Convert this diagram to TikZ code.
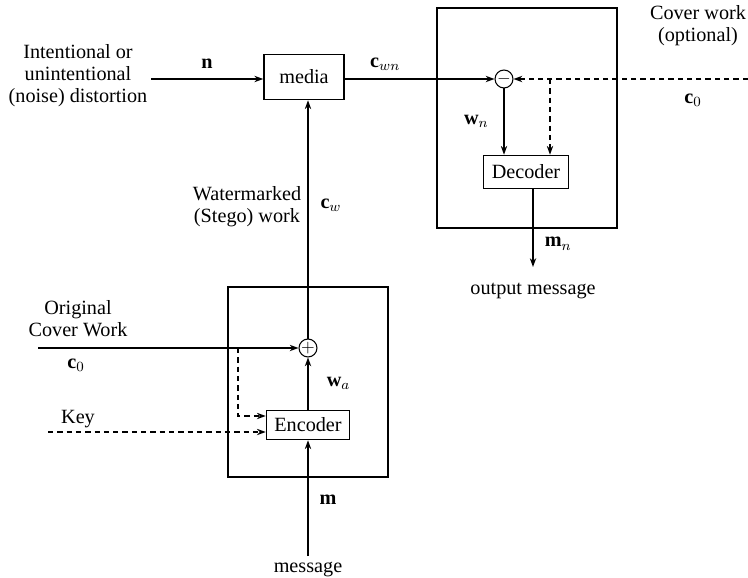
\documentclass[tikz,border=0pt]{standalone}
\usepackage{amsmath}
\usepackage{fontspec}
\setmainfont{Liberation Serif}
\usetikzlibrary{arrows.meta, calc, positioning}

\tikzset{
    blk/.style={draw, line width=0.9pt, inner sep=0pt},
    frame/.style={draw, line width=1pt, inner sep=0pt},
    sumnode/.style={draw, circle, line width=0.6pt, minimum size=0.34cm, inner sep=0pt},
    txt/.style={align=center, font=\fontsize{11.5}{12.6}\selectfont},
    sig/.style={-{Stealth[length=5pt, width=3.6pt]}, line width=0.8pt},
    opt/.style={sig, dash pattern=on 3pt off 2.3pt},
}

\begin{document}
\begin{tikzpicture}[x=0.02cm, y=-0.02cm]
    \useasboundingbox (0,0) rectangle (748,578);

    % 1. Khung nhúng (encoder) và khung giải mã (decoder)
    \node[frame, minimum width=3.2cm, minimum height=3.8cm] (encfr) at (308,382) {};
    \node[frame, minimum width=3.6cm, minimum height=4.4cm] (decfr) at (527,118) {};

    % 2. Các khối
    \node[blk, minimum width=1.6cm, minimum height=0.9cm, txt] (media) at (304,77) {media};
    \node[blk, minimum width=1.7cm, minimum height=0.66cm, txt] (dec) at (526,172) {Decoder};
    \node[blk, minimum width=1.66cm, minimum height=0.58cm, txt] (enc) at (308,425) {Encoder};
    \node[sumnode] (plus) at (308,348) {$+$};
    \node[sumnode] (minus) at (504,79) {$-$};

    % 3. Các chữ mô tả
    \node[txt] (noise) at (78,76) {Intentional or\\unintentional\\(noise) distortion};
    \node[txt] (cover) at (698,26) {Cover work\\(optional)};
    \node[txt] (wmk) at (247,207) {Watermarked\\(Stego) work};
    \node[txt] (orig) at (78,319) {Original\\Cover Work};
    \node[txt] (key) at (78,419) {Key};
    \node[txt, anchor=north] (msg) at (308,556) {message};
    \node[txt] (outmsg) at (533,291) {output message};

    % 4. Điểm đầu / điểm cuối
    \coordinate (nin) at (151,79);
    \coordinate (cin) at (748,79);
    \coordinate (oin) at (38,348);
    \coordinate (kin) at (48,432);
    \coordinate (mend) at (533,267);
    \coordinate (br1) at (238,348);
    \coordinate (br2) at (550,79);

    % 5. Các mũi tên
    \draw[sig] (nin) -- (nin -| media.west) node[midway, above=2pt, txt] {$\mathbf{n}$};
    \draw[sig] (plus) -- (plus |- media.south);
    \draw[sig] (media.east |- minus) -- (minus) node[pos=0.27, above=1pt, txt] {$\mathbf{c}_{wn}$};
    \draw[opt] (cin) -- (minus);
    \draw[opt] (br2) -- (br2 |- dec.north);
    \draw[sig] (minus) -- (minus |- dec.north) node[midway, left=5pt, txt] {$\mathbf{w}_n$};
    \draw[sig] (dec.south -| mend) -- (mend) node[pos=0.7, right=3pt, txt] {$\mathbf{m}_n$};

    \draw[sig] (oin) -- (plus);
    \draw[opt] (br1) |- ($(enc.west)+(0,-9)$);
    \draw[opt] (kin) -- (kin -| enc.west);
    \draw[sig] (enc) -- (plus) node[midway, right=7pt, txt] {$\mathbf{w}_a$};
    \draw[sig] (msg.north) -- (enc.south);

    % 6. Nhãn tín hiệu
    \node[txt] (cw) at (331,205) {$\mathbf{c}_w$};
    \node[txt] (c0a) at (76,365) {$\mathbf{c}_0$};
    \node[txt] (c0b) at (693,100) {$\mathbf{c}_0$};
    \node[txt] (mlbl) at (328,500) {$\mathbf{m}$};
\end{tikzpicture}
\end{document}
